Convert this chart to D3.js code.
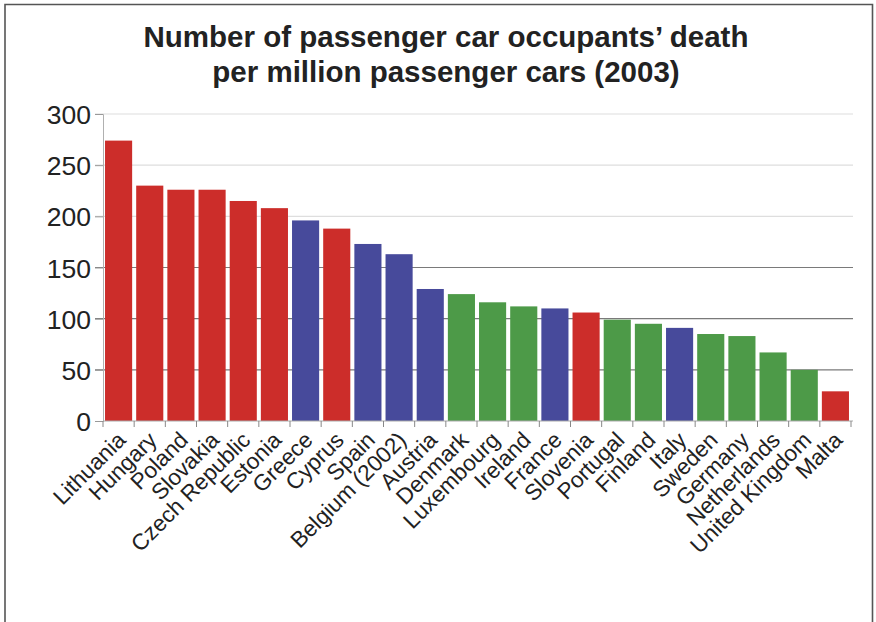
<!DOCTYPE html>
<html>
<head>
<meta charset="utf-8">
<script src="https://cdn.jsdelivr.net/npm/d3@7"></script>
<style>
  html, body { margin: 0; padding: 0; background: #fff; }
  svg { display: block; }
</style>
</head>
<body>
<svg id="chart" width="876" height="622"></svg>
<script>
const countries = ["Lithuania","Hungary","Poland","Slovakia","Czech Republic","Estonia","Greece","Cyprus","Spain","Belgium (2002)","Austria","Denmark","Luxembourg","Ireland","France","Slovenia","Portugal","Finland","Italy","Sweden","Germany","Netherlands","United Kingdom","Malta"];
const values = [274,230,226,226,215,208,196,188,173,163,129,124,116,112,110,106,99,95,91,85,83,67,50,29];
const groups = ["red","red","red","red","red","red","blue","red","blue","blue","blue","green","green","green","blue","red","green","green","blue","green","green","green","green","red"];
const yTicks = [0,50,100,150,200,250,300];
const titleLines = ["Number of passenger car occupants\u2019 death","per million passenger cars (2003)"];

const colorScale = d3.scaleOrdinal().domain(["red","blue","green"]).range(["#cc2d2a","#474a9b","#4d9a48"]);

const svg = d3.select("#chart");
const font = "'Liberation Sans', Arial, Helvetica, sans-serif";

// frame
svg.append("path")
  .attr("d", "M5,640 L5,4.5 L872.5,4.5 L872.5,640")
  .attr("fill", "none").attr("stroke", "#555").attr("stroke-width", 1.6);

// title
svg.append("text")
  .attr("x", 446).attr("y", 47)
  .attr("text-anchor", "middle")
  .attr("font-family", font).attr("font-weight", "bold")
  .attr("font-size", 29.5).attr("fill", "#222")
  .selectAll("tspan").data(titleLines).join("tspan")
  .attr("x", 446).attr("dy", (d, i) => i === 0 ? 0 : 35)
  .text(d => d);

const x = d3.scaleBand().domain(countries).range([103, 851]).paddingInner(0.13).paddingOuter(0.065);
const y = d3.scaleLinear().domain([0, 300]).range([421, 114]);

// gridlines
const gridG = svg.append("g");
gridG.selectAll("line").data(yTicks.filter(t => t > 0)).join("line")
  .attr("x1", 95).attr("x2", 853)
  .attr("y1", d => y(d)).attr("y2", d => y(d))
  .attr("stroke", d => d >= 200 ? "#dedede" : "#7a7a7a")
  .attr("stroke-width", 1.2);

// y axis
const yAxis = svg.append("g").attr("transform", "translate(103,0)")
  .call(d3.axisLeft(y).tickValues(yTicks).tickSize(8).tickPadding(4));
yAxis.select(".domain").attr("stroke", "#b0b0b0");
yAxis.selectAll(".tick line").attr("stroke", "#999");
yAxis.selectAll(".tick text")
  .attr("font-family", font).attr("font-size", 26.5).attr("fill", "#222")
  .attr("dy", "0.36em");

// bars
svg.append("g").selectAll("rect").data(countries).join("rect")
  .attr("x", d => x(d))
  .attr("width", x.bandwidth())
  .attr("y", (d, i) => y(values[i]))
  .attr("height", (d, i) => y(0) - y(values[i]))
  .attr("fill", (d, i) => colorScale(groups[i]));

// x axis baseline and band-edge ticks
const edgeTicks = countries.map(c => x(c) - x.step() * x.paddingInner() / 2).concat([x(countries[countries.length - 1]) + x.bandwidth() + x.step() * x.paddingInner() / 2]);
svg.append("line").attr("x1", 103).attr("x2", 853).attr("y1", y(0)).attr("y2", y(0))
  .attr("stroke", "#aaa").attr("stroke-width", 1);
svg.append("g").selectAll("line").data(edgeTicks).join("line")
  .attr("x1", d => d).attr("x2", d => d)
  .attr("y1", y(0)).attr("y2", y(0) + 6)
  .attr("stroke", "#888").attr("stroke-width", 1);

// x labels
svg.append("g").selectAll("text").data(countries).join("text")
  .attr("transform", d => `translate(${x(d) + x.bandwidth() / 2 - 3},${y(0) + 9}) rotate(-45)`)
  .attr("text-anchor", "end")
  .attr("dy", "0.72em")
  .attr("font-family", font).attr("font-size", 22.5).attr("fill", "#222")
  .text(d => d);
</script>
</body>
</html>
